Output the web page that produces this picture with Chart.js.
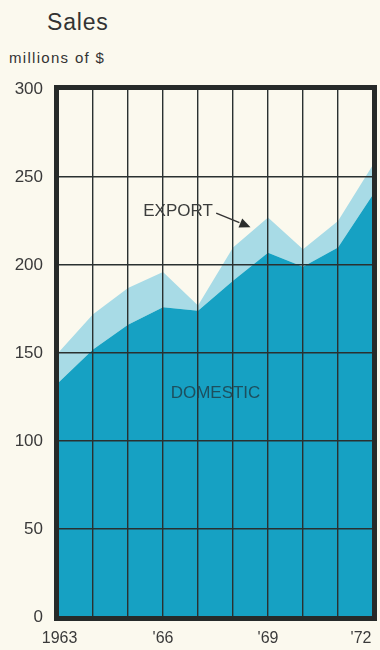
<!DOCTYPE html>
<html>
<head>
<meta charset="utf-8">
<script src="https://cdn.jsdelivr.net/npm/chart.js@4"></script>
<style>
  body { margin: 0; background: #fbf9ee; }
  #wrap { position: relative; width: 380px; height: 650px; }
  #title { position: absolute; left: 47px; top: 9px; font: 23px "Liberation Sans", Arial, sans-serif; letter-spacing: 0.8px; color: #333; }
  #unit { position: absolute; left: 9px; top: 49px; font: 15px "Liberation Sans", Arial, sans-serif; letter-spacing: 1.3px; color: #333; }
  canvas { position: absolute; left: 0; top: 0; }
</style>
</head>
<body>
<div id="wrap">
  <div id="title">Sales</div>
  <div id="unit">millions of $</div>
  <canvas id="sales"></canvas>
</div>
<script>
// yearly sales, millions of $
const years = ['1963', '1964', '1965', '1966', '1967', '1968', '1969', '1970', '1971', '1972'];
const domestic = [133, 152, 166, 176, 174, 191, 207, 199, 210, 240];
const exportSales = [17, 20, 21, 20, 3, 19, 20, 10, 15, 17];
const yearTicks = ['\u20091963', '', '', "'66", '', '', "'69", '', '', "'72\u2003\u2002"];
const yMax = 300;
const yStep = 50;

// where the two area names sit, in axis units (category index, $m)
const domesticLabel = { x: 4.5, y: 127 };
const exportLabel = { x: 3.43, y: 230.5 };
const exportArrow = { from: { x: 4.52, y: 229.5 }, to: { x: 5.5, y: 221.5 } };

const ink = '#2a3130';

const framePlugin = {
  id: 'frame',
  afterDraw(chart) {
    const { ctx, chartArea: a, scales } = chart;
    const sx = scales.x, sy = scales.y;
    ctx.save();
    // heavy border round the plot
    ctx.strokeStyle = '#262a29';
    ctx.lineWidth = 5;
    ctx.strokeRect(a.left - 1.5, a.top - 1.5, a.right - a.left + 3, a.bottom - a.top + 3);

    // area names
    ctx.font = '17px "Liberation Sans", Arial, sans-serif';
    ctx.textAlign = 'center';
    ctx.textBaseline = 'middle';
    ctx.fillStyle = '#1d4f5e';
    ctx.fillText('DOMESTIC', sx.getPixelForValue(domesticLabel.x), sy.getPixelForValue(domesticLabel.y));
    ctx.fillStyle = '#3b3d3c';
    ctx.fillText('EXPORT', sx.getPixelForValue(exportLabel.x), sy.getPixelForValue(exportLabel.y));

    // arrow from EXPORT down to the band
    const x0 = sx.getPixelForValue(exportArrow.from.x), y0 = sy.getPixelForValue(exportArrow.from.y);
    const x1 = sx.getPixelForValue(exportArrow.to.x), y1 = sy.getPixelForValue(exportArrow.to.y);
    const ang = Math.atan2(y1 - y0, x1 - x0);
    const head = 12;
    ctx.strokeStyle = '#333';
    ctx.lineWidth = 1.5;
    ctx.beginPath();
    ctx.moveTo(x0, y0);
    ctx.lineTo(x1 - head * Math.cos(ang), y1 - head * Math.sin(ang));
    ctx.stroke();
    ctx.fillStyle = '#2b2d2c';
    ctx.beginPath();
    ctx.moveTo(x1, y1);
    ctx.lineTo(x1 - head * Math.cos(ang - 0.42), y1 - head * Math.sin(ang - 0.42));
    ctx.lineTo(x1 - head * Math.cos(ang + 0.42), y1 - head * Math.sin(ang + 0.42));
    ctx.closePath();
    ctx.fill();
    ctx.restore();
  }
};

new Chart(document.getElementById('sales'), {
  type: 'line',
  data: {
    labels: years,
    datasets: [
      {
        label: 'Domestic',
        data: domestic,
        fill: 'origin',
        backgroundColor: '#16a1c3',
        borderWidth: 0,
        pointRadius: 0,
        tension: 0
      },
      {
        label: 'Export',
        data: exportSales,
        fill: '-1',
        backgroundColor: '#a8dbe6',
        borderWidth: 0,
        pointRadius: 0,
        tension: 0
      }
    ]
  },
  options: {
    responsive: true,
    maintainAspectRatio: false,
    animation: false,
    layout: { padding: { top: 89, right: 7, left: 0, bottom: 0 } },
    plugins: {
      legend: { display: false },
      tooltip: { enabled: false }
    },
    scales: {
      x: {
        offset: false,
        // grid sits on top of the filled areas
        grid: { z: 1, color: ink, lineWidth: 1.4, drawTicks: false },
        border: { display: false },
        ticks: {
          autoSkip: false,
          maxRotation: 0,
          padding: 12,
          color: '#3a3a3a',
          font: { family: '"Liberation Sans", Arial, sans-serif', size: 16 },
          callback: (v, i) => yearTicks[i]
        },
        afterFit(scale) {
          scale.height = 33;
          scale.paddingLeft = 0;
          scale.paddingRight = 0;
        }
      },
      y: {
        stacked: true,
        min: 0,
        max: yMax,
        grid: { z: 1, color: ink, lineWidth: 1.4, drawTicks: false },
        border: { display: false },
        ticks: {
          stepSize: yStep,
          padding: 15,
          color: '#3a3a3a',
          font: { family: '"Liberation Sans", Arial, sans-serif', size: 17 }
        },
        afterFit(scale) {
          scale.width = 58;
        }
      }
    }
  },
  plugins: [framePlugin]
});
</script>
</body>
</html>
